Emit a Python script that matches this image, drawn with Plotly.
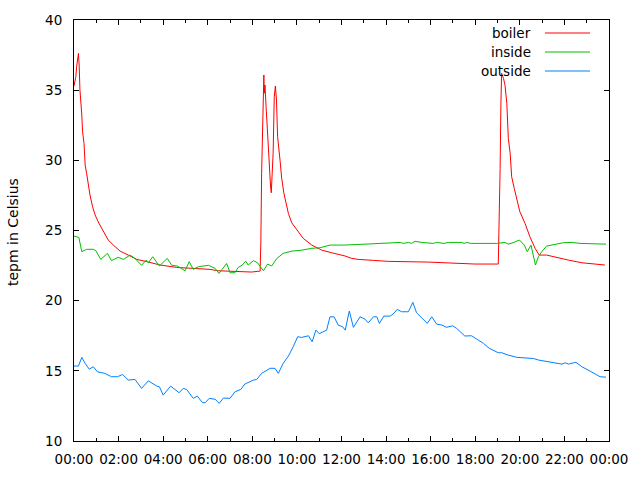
import plotly.graph_objects as go

DAY = "2000-01-01 "

boiler_t = ["00:00", "00:05", "00:07", "00:09", "00:12", "00:14", "00:16", "00:21", "00:23", "00:27",
            "00:30", "00:34", "00:39", "00:43", "00:50", "00:57", "01:05", "01:19", "01:32", "01:46",
            "02:04", "02:26", "02:49", "03:16", "03:52", "04:36", "05:21", "06:06", "06:28", "07:22",
            "07:58", "08:21", "08:23", "08:25", "08:28", "08:31", "08:32", "08:34", "08:37", "08:40",
            "08:43", "08:46", "08:49", "08:51", "08:54", "08:56", "08:59", "09:02", "09:05", "09:08",
            "09:15", "09:19", "09:25", "09:31", "09:37", "09:46", "10:00", "10:17", "10:40", "11:07",
            "11:34", "12:10", "12:28", "12:45", "13:26", "14:06", "15:54", "16:48", "17:37", "17:59",
            "19:02", "19:04", "19:07", "19:09", "19:11", "19:16", "19:20", "19:25", "19:29", "19:34",
            "19:38", "19:45", "19:52", "20:00", "20:14", "20:27", "20:41", "20:52", "21:12", "21:35",
            "22:11", "22:47", "23:22", "23:49"]
boiler_v = [35.3, 35.96, 36.67, 37.03, 37.62, 36.72, 35.01, 33.23, 32.04, 31.21,
            29.66, 29.07, 28.12, 27.53, 26.69, 26.1, 25.62, 24.91, 24.32, 23.96,
            23.53, 23.25, 22.94, 22.78, 22.54, 22.37, 22.3, 22.23, 22.13, 22.06,
            22.04, 22.11, 24.32, 29.07, 33.82, 36.08, 34.78, 35.37, 33.82, 32.16,
            30.97, 29.55, 28.17, 27.69, 29.31, 30.5, 34.53, 35.3, 34.3, 31.68,
            29.9, 28.72, 27.65, 26.81, 26.22, 25.55, 25.03, 24.44, 23.96, 23.6,
            23.41, 23.18, 23.01, 22.94, 22.87, 22.8, 22.75, 22.68, 22.59, 22.61,
            22.61, 24.91, 29.43, 33.94, 36.2, 35.84, 35.37, 34.06, 31.56, 30.5,
            28.83, 28.0, 27.17, 26.34, 25.51, 24.56, 23.73, 23.25, 23.25, 23.09,
            22.89, 22.7, 22.61, 22.54]

inside_t = ["00:00", "00:13", "00:21", "00:34", "00:52", "00:59", "01:12", "01:30", "01:41", "01:59",
            "02:13", "02:31", "02:44", "03:02", "03:14", "03:20", "03:32", "03:50", "04:11", "04:23",
            "04:38", "04:59", "05:10", "05:21", "05:35", "06:02", "06:20", "06:30", "06:51", "07:00",
            "07:13", "07:22", "07:33", "07:42", "07:49", "08:03", "08:14", "08:21", "08:30", "08:41",
            "08:52", "09:06", "09:23", "09:46", "10:13", "10:40", "11:02", "11:29", "12:07", "13:06",
            "13:54", "14:38", "14:46", "15:00", "15:09", "15:18", "15:36", "16:07", "16:16", "16:36",
            "16:48", "17:24", "17:30", "17:37", "17:48", "18:58", "19:20", "19:29", "19:42", "19:59",
            "20:12", "20:20", "20:30", "20:37", "20:42", "20:50", "20:59", "21:12", "21:35", "21:57",
            "22:20", "22:42", "23:52"]
inside_v = [24.6, 24.51, 23.49, 23.66, 23.66, 23.56, 22.94, 23.37, 22.85, 23.09,
            22.94, 23.25, 23.01, 22.52, 22.89, 22.7, 23.13, 22.47, 23.01, 22.52,
            22.47, 22.13, 22.78, 22.23, 22.42, 22.52, 22.3, 21.94, 22.65, 21.99,
            21.99, 22.37, 22.54, 22.82, 22.54, 22.85, 22.7, 22.47, 22.13, 22.61,
            22.47, 23.01, 23.37, 23.53, 23.6, 23.73, 23.77, 23.96, 23.96, 24.03,
            24.1, 24.15, 24.08, 24.15, 24.08, 24.23, 24.15, 24.08, 24.15, 24.08,
            24.15, 24.15, 24.08, 24.15, 24.08, 24.08, 24.15, 24.03, 24.13, 24.32,
            23.96, 23.49, 23.96, 23.25, 22.54, 23.13, 23.49, 23.89, 24.01, 24.13,
            24.15, 24.08, 24.03]

outside_t = ["00:00", "00:12", "00:21", "00:30", "00:41", "00:52", "01:03", "01:23", "01:41", "01:57",
             "02:11", "02:26", "02:44", "03:02", "03:20", "03:43", "03:50", "04:00", "04:20", "04:43",
             "04:54", "05:03", "05:21", "05:32", "05:45", "05:53", "06:04", "06:20", "06:31", "06:42",
             "07:00", "07:13", "07:29", "07:40", "08:03", "08:12", "08:25", "08:48", "09:01", "09:10",
             "09:23", "09:37", "09:50", "10:02", "10:13", "10:31", "10:41", "10:51", "11:00", "11:20",
             "11:29", "11:40", "11:51", "12:03", "12:10", "12:21", "12:32", "12:50", "13:03", "13:12",
             "13:26", "13:35", "13:42", "13:54", "14:11", "14:19", "14:30", "14:42", "15:00", "15:12",
             "15:22", "15:51", "16:03", "16:16", "16:30", "16:43", "16:59", "17:10", "17:32", "17:50",
             "18:04", "18:22", "18:38", "19:02", "19:11", "19:29", "19:52", "20:36", "20:50", "21:30",
             "21:53", "22:02", "22:11", "22:31", "22:47", "23:09", "23:36", "23:52"]
outside_v = [15.34, 15.34, 15.96, 15.53, 15.12, 15.29, 14.93, 14.82, 14.58, 14.58,
             14.74, 14.34, 14.39, 13.75, 14.29, 13.91, 13.86, 13.27, 13.91, 13.44,
             13.75, 13.68, 13.04, 13.2, 12.75, 12.72, 13.04, 12.97, 12.68, 13.06,
             13.04, 13.5, 13.68, 14.06, 14.34, 14.39, 14.82, 15.18, 15.18, 14.82,
             15.53, 16.05, 16.71, 17.43, 17.38, 17.5, 17.07, 17.9, 17.65, 17.9,
             18.85, 18.85, 18.26, 18.14, 17.9, 19.26, 18.1, 18.85, 18.69, 18.42,
             18.85, 18.85, 18.38, 18.9, 18.9, 19.05, 19.38, 19.21, 19.21, 19.88,
             19.14, 18.38, 18.85, 18.33, 18.26, 18.1, 18.21, 18.02, 17.48, 17.5,
             17.26, 16.96, 16.6, 16.29, 16.29, 16.12, 15.96, 15.88, 15.77, 15.61,
             15.48, 15.57, 15.48, 15.61, 15.29, 14.98, 14.58, 14.55]

names = ["boiler", "inside", "outside"]
colors = ["#ff0000", "#00c000", "#0080ff"]
series = [(boiler_t, boiler_v), (inside_t, inside_v), (outside_t, outside_v)]

FONT = "DejaVu Sans"

fig = go.Figure()
for name, color, (t, v) in zip(names, colors, series):
    fig.add_trace(go.Scatter(x=[DAY + s for s in t], y=v, mode="lines", name=name,
                             line=dict(color=color, width=1), showlegend=False))

# gnuplot-style key: text right-aligned, sample line to its right
for i, (name, color) in enumerate(zip(names, colors)):
    yp = 1 - (13 + 19 * i) / 421
    fig.add_annotation(x=(533 - 74) / 535, y=yp, xref="paper", yref="paper", text=name,
                       showarrow=False, xanchor="right", yanchor="middle",
                       font=dict(family=FONT, size=13.5, color="#000000"))
    fig.add_shape(type="line", xref="paper", yref="paper",
                  x0=(545 - 74) / 535, x1=(590 - 74) / 535, y0=yp, y1=yp,
                  line=dict(color=color, width=1))

fig.add_annotation(x=-(74 - 13) / 535, y=(441 - 232) / 421, xref="paper", yref="paper",
                   text="tepm in Celsius", textangle=-90, showarrow=False,
                   xanchor="center", yanchor="middle",
                   font=dict(family=FONT, size=14, color="#000000"))

fig.update_layout(
    width=640, height=480,
    margin=dict(l=74, r=31, t=20, b=39),
    paper_bgcolor="white", plot_bgcolor="white",
    font=dict(family=FONT, size=13.5, color="#000000"),
)
fig.update_xaxes(
    type="date", range=[DAY + "00:00", "2000-01-02 00:00"],
    dtick=7200000, tickformat="%H:%M", tick0=DAY + "00:00",
    ticks="inside", ticklen=5, tickcolor="black", mirror="ticks",
    showline=True, linecolor="black", linewidth=1, showgrid=False, zeroline=False,
    ticklabelstandoff=6,
    minor=dict(dtick=3600000, ticks="inside", ticklen=3, tickcolor="black", showgrid=False),
)
fig.update_yaxes(
    range=[10, 40], dtick=5, tick0=10,
    ticks="inside", ticklen=5, tickcolor="black", mirror="ticks",
    showline=True, linecolor="black", linewidth=1, showgrid=False, zeroline=False,
    ticklabelstandoff=8,
)

# remove the page's default 8px body margin so the 640x480 figure fills the window
fig.write_html("out.html", config={"displayModeBar": False},
               post_script="document.body.style.margin='0';")
